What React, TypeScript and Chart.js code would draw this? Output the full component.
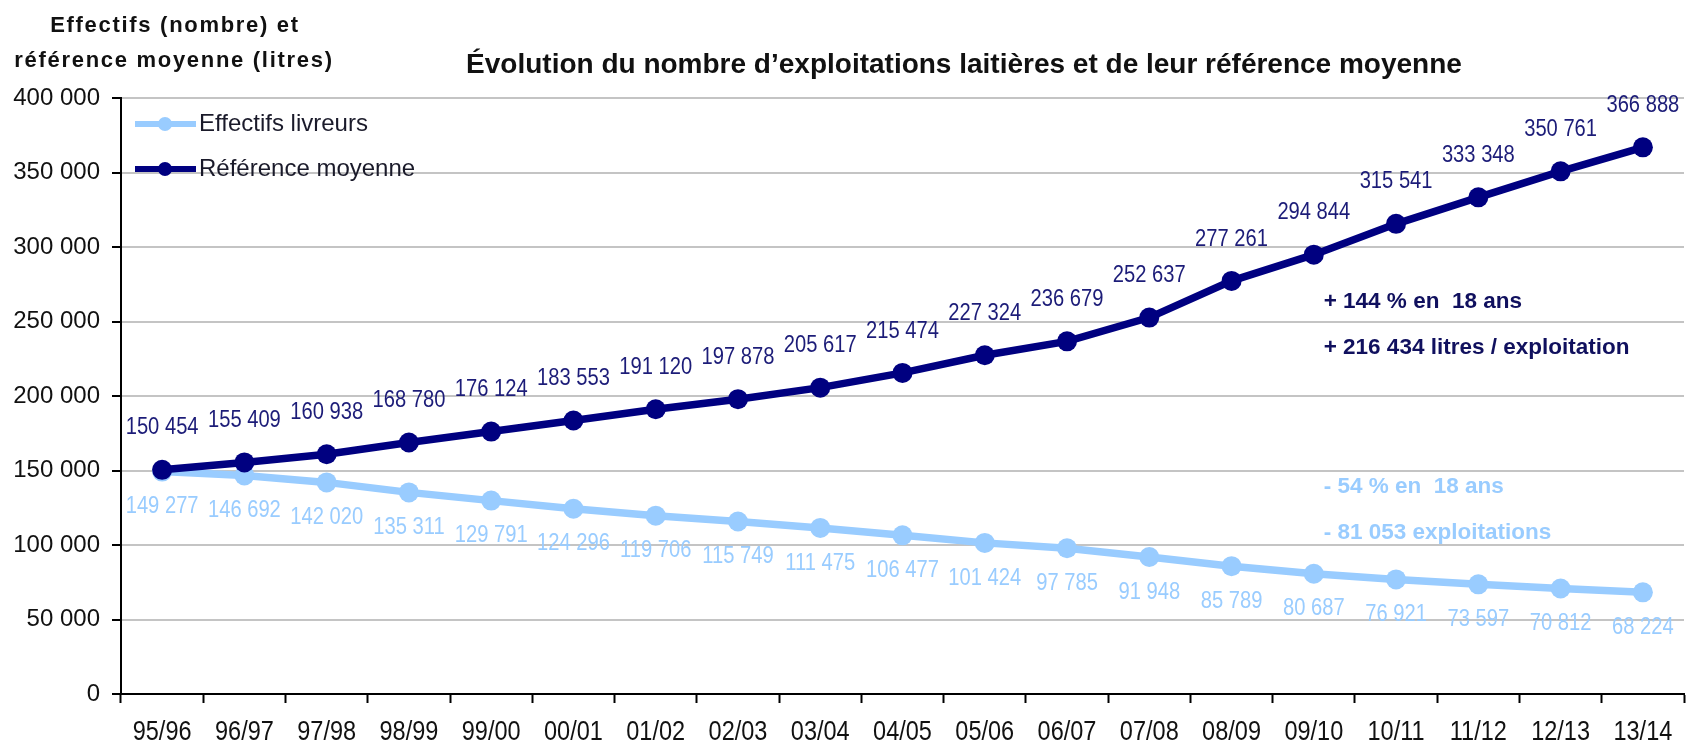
import React, { useEffect, useRef } from "react";
import { Chart, registerables } from "chart.js";

Chart.register(...registerables);

const categories = ["95/96", "96/97", "97/98", "98/99", "99/00", "00/01", "01/02", "02/03", "03/04", "04/05", "05/06", "06/07", "07/08", "08/09", "09/10", "10/11", "11/12", "12/13", "13/14"];
const effectifs = [149277, 146692, 142020, 135311, 129791, 124296, 119706, 115749, 111475, 106477, 101424, 97785, 91948, 85789, 80687, 76921, 73597, 70812, 68224];
const reference = [150454, 155409, 160938, 168780, 176124, 183553, 191120, 197878, 205617, 215474, 227324, 236679, 252637, 277261, 294844, 315541, 333348, 350761, 366888];
const yTicks = [0, 50000, 100000, 150000, 200000, 250000, 300000, 350000, 400000];

const DARK = "#000080";
const LIGHT = "#99CCFF";

const annotations = [
  { text: "+ 144 % en  18 ans", x: 14.12, y: 263300, color: "#10105e" },
  { text: "+ 216 434 litres / exploitation", x: 14.12, y: 232200, color: "#10105e" },
  { text: "- 54 % en  18 ans", x: 14.12, y: 138900, color: LIGHT },
  { text: "- 81 053 exploitations", x: 14.12, y: 108000, color: LIGHT },
];

const fmt = (n: number) => String(n).replace(/\B(?=(\d{3})+(?!\d))/g, " ");
const FONT = "'Liberation Sans', Arial, sans-serif";

function drawText(ctx: any, text: string, x: number, y: number, font: string, color: string, align: string, sx = 1, baseline = "middle") {
  ctx.save();
  ctx.font = font;
  ctx.fillStyle = color;
  ctx.textAlign = align;
  ctx.textBaseline = baseline;
  ctx.translate(x, y);
  ctx.scale(sx, 1);
  ctx.fillText(text, 0, 0);
  ctx.restore();
}

const overlayPlugin = {
  id: "overlay",
  afterDatasetsDraw(chart: any) {
    const ctx = chart.ctx;
    chart.data.datasets.forEach((ds: any, i: number) => {
      const meta = chart.getDatasetMeta(i);
      const above = ds.label === "Référence moyenne";
      meta.data.forEach((pt: any, j: number) => {
        drawText(ctx, fmt(ds.data[j]), pt.x, above ? pt.y - 42 : pt.y + 35, `24px ${FONT}`, above ? "#1c1c78" : LIGHT, "center", 0.84);
      });
    });
    const xs = chart.scales.x;
    const ys = chart.scales.y;
    annotations.forEach((a) => {
      drawText(ctx, a.text, xs.getPixelForValue(a.x), ys.getPixelForValue(a.y), `bold 22.5px ${FONT}`, a.color, "left");
    });
  },
  afterDraw(chart: any) {
    const ctx = chart.ctx;
    const xs = chart.scales.x;
    // category labels (narrow)
    categories.forEach((c, i) => {
      drawText(ctx, c, xs.getPixelForValue(i), 732, `28px ${FONT}`, "#111", "center", 0.84);
    });
    drawText(ctx, "Évolution du nombre d’exploitations laitières et de leur référence moyenne", 964, 73, `bold 28px ${FONT}`, "#111", "center", 1, "alphabetic");
    ctx.save();
    (ctx as any).letterSpacing = "1.7px";
    drawText(ctx, "Effectifs (nombre) et", 175, 31.5, `bold 22px ${FONT}`, "#111", "center", 1, "alphabetic");
    drawText(ctx, "référence moyenne (litres)", 174, 66.5, `bold 22px ${FONT}`, "#111", "center", 1, "alphabetic");
    ctx.restore();
    // legend
    const items = [
      { label: "Effectifs livreurs", color: LIGHT, y: 124 },
      { label: "Référence moyenne", color: DARK, y: 169 },
    ];
    items.forEach((it) => {
      ctx.save();
      ctx.strokeStyle = it.color;
      ctx.lineWidth = 6;
      ctx.beginPath();
      ctx.moveTo(135, it.y);
      ctx.lineTo(196, it.y);
      ctx.stroke();
      ctx.fillStyle = it.color;
      ctx.beginPath();
      ctx.arc(165, it.y, 7, 0, Math.PI * 2);
      ctx.fill();
      ctx.restore();
      drawText(ctx, it.label, 199, it.y, `24px ${FONT}`, "#1a1a2a", "left");
    });
  },
};

export default function App() {
  const ref = useRef<HTMLCanvasElement>(null);
  useEffect(() => {
    if (!ref.current) return;
    const chart = new Chart(ref.current, {
      type: "line",
      data: {
        labels: categories,
        datasets: [
          {
            label: "Référence moyenne",
            data: reference,
            borderColor: DARK,
            backgroundColor: DARK,
            borderWidth: 7.5,
            pointRadius: 10,
            pointBorderWidth: 0,
            pointBackgroundColor: DARK,
            tension: 0,
          },
          {
            label: "Effectifs livreurs",
            data: effectifs,
            borderColor: LIGHT,
            backgroundColor: LIGHT,
            borderWidth: 7.5,
            pointRadius: 10,
            pointBorderWidth: 0,
            pointBackgroundColor: LIGHT,
            tension: 0,
          },
        ],
      },
      options: {
        animation: false,
        responsive: true,
        maintainAspectRatio: false,
        layout: { padding: { top: 98, right: 4, left: 0, bottom: 0 } },
        plugins: { legend: { display: false }, title: { display: false }, tooltip: { enabled: false } },
        scales: {
          x: {
            offset: true,
            grid: { offset: true, drawOnChartArea: false, drawTicks: true, tickLength: 9, tickColor: "#000", tickWidth: 2 },
            border: { color: "#000", width: 2 },
            ticks: { color: "rgba(0,0,0,0)", font: { family: FONT, size: 20 }, padding: 6, autoSkip: false, maxRotation: 0 },
            afterFit: (s: any) => { s.height = 51; },
          },
          y: {
            min: 0,
            max: 400000,
            afterBuildTicks: (s: any) => { s.ticks = yTicks.map((v) => ({ value: v })); },
            grid: { color: "#c4c4c4", lineWidth: 2, tickLength: 9, tickColor: "#000", tickWidth: 2 },
            border: { color: "#000", width: 2 },
            ticks: { color: "#111", font: { family: FONT, size: 24 }, padding: 12, callback: (v: any) => fmt(Number(v)) },
            afterFit: (s: any) => { s.width = 121; },
          },
        },
      },
      plugins: [overlayPlugin],
    });
    return () => chart.destroy();
  }, []);
  return (
    <div style={{ position: "fixed", left: 0, top: 0, width: 1694, height: 745, background: "#fff" }}>
      <canvas ref={ref} />
    </div>
  );
}
